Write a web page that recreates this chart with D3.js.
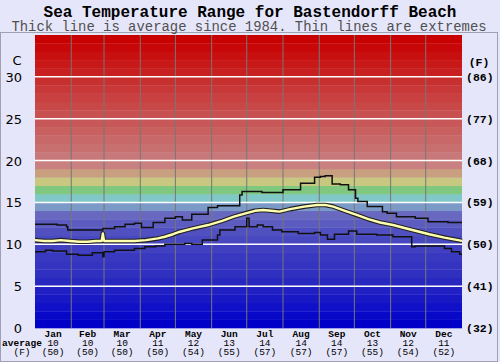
<!DOCTYPE html>
<html>
<head>
<meta charset="utf-8">
<script src="https://cdn.jsdelivr.net/npm/d3@7"></script>
<style>
  body { margin: 0; background: #e6e6fa; }
  text { font-family: "Liberation Mono", "DejaVu Sans Mono", monospace; }
</style>
</head>
<body>
<div id="canvas"></div>
<script>
const months = ["Jan","Feb","Mar","Apr","May","Jun","Jul","Aug","Sep","Oct","Nov","Dec"];
const monthStart = [0,31,59,90,120,151,181,212,243,273,304,334,365];
const monthAvgC = [10,10,10,11,12,13,14,14,14,13,12,11];
const monthAvgF = [50,50,50,50,54,55,57,57,57,55,54,52];

const cTicks = [0,5,10,15,20,25,30];
const fTicks = [32,41,50,59,68,77,86];

// [day, temp C] - average since 1984
const avgLine = [
  [0,10.5],[8,10.4],[15,10.4],[22,10.5],[30,10.4],[38,10.3],[45,10.3],[52,10.4],[57,10.4],
  [58,11.3],[59,10.4],[68,10.4],[75,10.4],[85,10.4],[95,10.5],[105,10.7],[111,10.9],
  [118,11.2],[124,11.5],[135,11.9],[148,12.3],[160,12.8],[170,13.3],[180,13.7],[188,14.0],
  [195,14.1],[202,14.0],[209,13.9],[218,14.2],[230,14.5],[241,14.7],[248,14.7],[255,14.5],
  [265,14.0],[275,13.5],[285,13.0],[295,12.6],[306,12.3],[320,11.8],[337,11.2],[350,10.8],[365,10.4]
];

// [day, temp C] - step lines for extremes
const maxLine = [
  [0,12.4],[19,12.3],[27,12.1],[28,11.7],[58,11.9],[68,12.1],[77,12.4],[85,12.5],[91,12.0],
  [101,12.6],[111,13.1],[120,13.3],[126,12.9],[134,13.6],[148,14.4],[156,14.6],[175,15.9],
  [177,16.3],[194,16.2],[212,16.5],[227,17.3],[239,18.0],[244,18.1],[248,18.2],[254,17.2],
  [261,17.1],[268,16.5],[274,15.5],[276,15.1],[284,14.5],[297,13.9],[301,13.7],[309,13.3],
  [325,13.1],[336,12.7],[353,12.6],[365,12.6]
];

const minLine = [
  [0,9.1],[9,9.3],[15,9.2],[27,8.8],[37,8.7],[49,9.0],[58,8.5],[59,9.1],[68,9.3],[85,9.5],
  [94,9.7],[103,9.8],[111,10.0],[128,10.1],[134,10.0],[143,10.5],[156,11.1],[158,11.7],
  [171,12.1],[181,13.1],[183,12.1],[190,12.3],[195,12.1],[203,11.7],[211,11.5],[225,11.3],
  [239,11.4],[244,11.1],[250,10.6],[256,11.2],[268,11.6],[275,11.2],[292,11.1],[306,10.9],
  [322,9.7],[325,9.8],[350,9.5],[356,9.1],[363,8.8],[365,8.8]
];

// background colour for each 1 degree band, from 0 up to 35
const bandColors = [
  "#0000c8","#0808c8","#1010c8","#1818c4","#2020c4","#2828c0","#3030c0","#3434c0","#3838c0","#4040c0",
  "#4848c0","#5050c0","#5c5cc0","#6868c0","#7b9ac8","#80c8c8","#80c880","#c8c880","#c8a080","#c88080",
  "#c87878","#c87070","#c86868","#c86060","#c85858","#c85050","#c84848","#c84040","#c83838","#c83030",
  "#c82020","#c81818","#c81010","#c80808","#c80000"
];

const width = 500;
const height = 362;

const svg = d3.select("#canvas").append("svg")
  .attr("width", width)
  .attr("height", height);

svg.append("rect")
  .attr("x", 0.5).attr("y", 32.5)
  .attr("width", 497).attr("height", 329)
  .attr("fill", "none")
  .attr("stroke", "#a0a0b0");

const x = d3.scaleLinear().domain([0, 365]).range([35, 462]);
const y = d3.scaleLinear().domain([0, 35]).range([328, 35]);

// colour bands
svg.append("g").selectAll("rect")
  .data(bandColors)
  .enter().append("rect")
  .attr("x", x(0))
  .attr("width", x(365) - x(0))
  .attr("y", (d, i) => y(i + 1))
  .attr("height", (d, i) => y(i) - y(i + 1) + 0.3)
  .attr("fill", d => d);

// month separators
svg.append("g").selectAll("line")
  .data(monthStart.slice(1, 12))
  .enter().append("line")
  .attr("x1", d => x(d)).attr("x2", d => x(d))
  .attr("y1", y(35)).attr("y2", y(0))
  .attr("stroke", "#777")
  .attr("stroke-width", 1);

// white grid lines
svg.append("g").selectAll("line")
  .data(cTicks.slice(1))
  .enter().append("line")
  .attr("x1", x(0)).attr("x2", x(365))
  .attr("y1", d => y(d)).attr("y2", d => y(d))
  .attr("stroke", "#fff")
  .attr("stroke-width", 1.5);

const stepLine = d3.line()
  .x(d => x(d[0]))
  .y(d => y(d[1]))
  .curve(d3.curveStepAfter);

[maxLine, minLine].forEach(data => {
  svg.append("path")
    .datum(data)
    .attr("d", stepLine)
    .attr("fill", "none")
    .attr("stroke", "#111")
    .attr("stroke-width", 1.5);
});

const avgPath = d3.line()
  .x(d => x(d[0]))
  .y(d => y(d[1]));

svg.append("path")
  .datum(avgLine)
  .attr("d", avgPath)
  .attr("fill", "none")
  .attr("stroke", "#222")
  .attr("stroke-width", 4.6)
  .attr("stroke-linejoin", "round");

svg.append("path")
  .datum(avgLine)
  .attr("d", avgPath)
  .attr("fill", "none")
  .attr("stroke", "#ffffb0")
  .attr("stroke-width", 2.4)
  .attr("stroke-linejoin", "round");

// title
svg.append("text")
  .attr("x", 250).attr("y", 16.5)
  .attr("text-anchor", "middle")
  .style("font-size", "16px")
  .style("font-weight", "bold")
  .text("Sea Temperature Range for Bastendorff Beach");

svg.append("text")
  .attr("x", 249).attr("y", 31)
  .attr("text-anchor", "middle")
  .style("font-size", "13.9px")
  .attr("fill", "#505050")
  .text("Thick line is average since 1984. Thin lines are extremes");

// left axis (C)
svg.append("text")
  .attr("x", 17).attr("y", 65)
  .attr("text-anchor", "middle")
  .style("font-family", "'DejaVu Sans', Verdana, sans-serif")
  .style("font-size", "13px")
  .text("C");

svg.append("g").selectAll("text")
  .data(cTicks)
  .enter().append("text")
  .attr("x", 22)
  .attr("y", d => y(d) + 5)
  .attr("text-anchor", "end")
  .style("font-family", "'DejaVu Sans', Verdana, sans-serif")
  .style("font-size", "13px")
  .text(d => d);

// right axis (F)
svg.append("text")
  .attr("x", 479).attr("y", 66)
  .attr("text-anchor", "middle")
  .style("font-size", "11.5px")
  .style("font-weight", "bold")
  .text("(F)");

svg.append("g").selectAll("text")
  .data(fTicks)
  .enter().append("text")
  .attr("x", 466)
  .attr("y", (d, i) => y(cTicks[i]) + 4)
  .style("font-size", "11.5px")
  .style("font-weight", "bold")
  .text(d => "(" + d + ")");

// month labels and averages, one text block per month
const mid = i => x((monthStart[i] + monthStart[i + 1]) / 2);

const monthText = svg.append("g").selectAll("text")
  .data(months)
  .enter().append("text")
  .attr("text-anchor", "middle")
  .style("font-size", "9.5px");

monthText.append("tspan")
  .attr("x", (d, i) => mid(i)).attr("y", 337)
  .style("font-weight", "bold")
  .text(d => d);

monthText.append("tspan")
  .attr("x", (d, i) => mid(i)).attr("y", 346)
  .text((d, i) => monthAvgC[i]);

monthText.append("tspan")
  .attr("x", (d, i) => mid(i)).attr("y", 355)
  .text((d, i) => "(" + monthAvgF[i] + ")");

const avgLabel = svg.append("text")
  .attr("text-anchor", "middle")
  .style("font-size", "9.5px");

avgLabel.append("tspan")
  .attr("x", 22).attr("y", 346)
  .style("font-weight", "bold")
  .text("average");

avgLabel.append("tspan")
  .attr("x", 22).attr("y", 355)
  .text("(F)");
</script>
</body>
</html>
